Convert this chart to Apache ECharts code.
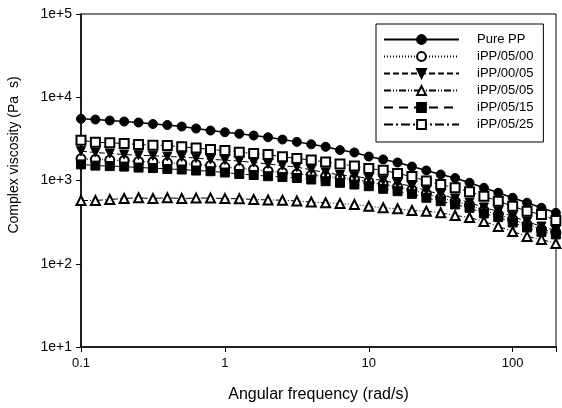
<!DOCTYPE html>
<html>
<head>
<meta charset="utf-8">
<script src="https://cdn.jsdelivr.net/npm/echarts@6/dist/echarts.min.js"></script>
<style>
  html, body { margin: 0; padding: 0; background: #fff; }
  #chart { width: 562px; height: 408px; }
</style>
</head>
<body>
<div id="chart"></div>
<script>
// angular frequency (rad/s), 10 points per decade
var freq = [0.1, 0.1259, 0.1585, 0.1995, 0.2512, 0.3162, 0.3981, 0.5012, 0.631, 0.7943,
            1, 1.259, 1.585, 1.995, 2.512, 3.162, 3.981, 5.012, 6.31, 7.943,
            10, 12.59, 15.85, 19.95, 25.12, 31.62, 39.81, 50.12, 63.1, 79.43,
            100, 125.9, 158.5, 199.5];

// complex viscosity (Pa s)
var purePP   = [5505, 5400, 5250, 5110, 4970, 4770, 4640, 4450, 4210, 3980,
                3800, 3640, 3470, 3310, 3105, 2910, 2720, 2540, 2320, 2170,
                1940, 1790, 1645, 1470, 1320, 1180, 1070, 940, 817, 712,
                620, 540, 470, 409];
var ipp0500  = [1820, 1790, 1760, 1740, 1690, 1670, 1630, 1600, 1560, 1510,
                1450, 1390, 1360, 1300, 1250, 1200, 1160, 1120, 1070, 1030,
                960, 895, 836, 769, 689, 617, 560, 508, 436, 391,
                340, 296, 258, 238];
var ipp0005  = [2250, 2170, 2110, 2050, 2010, 1980, 1940, 1915, 1860, 1790,
                1760, 1710, 1645, 1580, 1510, 1450, 1340, 1250, 1164, 1126,
                1057, 1000, 920, 854, 759, 679, 608, 544, 474, 425,
                370, 322, 280, 251];
var ipp0505  = [575, 575, 592, 608, 620, 608, 620, 608, 615, 615,
                608, 603, 592, 584, 580, 567, 552, 540, 529, 515,
                491, 470, 457, 436, 428, 409, 380, 360, 322, 281,
                244, 213, 196, 175];
var ipp0515  = [1560, 1510, 1490, 1470, 1430, 1410, 1375, 1356, 1318, 1293,
                1247, 1197, 1164, 1126, 1102, 1072, 1028, 981, 939, 895,
                854, 795, 744, 692, 620, 564, 515, 470, 402, 363,
                313, 273, 241, 225];
var ipp0525  = [3050, 2880, 2840, 2780, 2705, 2650, 2630, 2540, 2460, 2355,
                2290, 2190, 2110, 2050, 1925, 1840, 1760, 1670, 1580, 1490,
                1390, 1330, 1213, 1117, 986, 895, 817, 732, 648, 564,
                491, 428, 391, 331];

var names = ['Pure PP', 'iPP/05/00', 'iPP/00/05', 'iPP/05/05', 'iPP/05/15', 'iPP/05/25'];

var font = 'Liberation Sans, Arial, sans-serif';

function pts(ys) {
    return freq.map(function (f, i) { return [f, ys[i]]; });
}

function mkSeries(name, ys, symbol, dash, rotate, width) {
    return {
        name: name,
        type: 'line',
        data: pts(ys),
        symbol: symbol,
        symbolSize: 9,
        symbolRotate: rotate || 0,
        showSymbol: true,
        lineStyle: { color: '#000', width: width || 1, type: dash },
        itemStyle: { color: '#000', borderColor: '#000', borderWidth: 1 }
    };
}

var chart = echarts.init(document.getElementById('chart'));
chart.setOption({
    animation: false,
    backgroundColor: '#fff',
    textStyle: { fontFamily: font, color: '#000' },
    grid: {
        left: 81, right: 6, top: 14, bottom: 60,
        show: true, borderColor: '#000', borderWidth: 1, backgroundColor: 'transparent'
    },
    // y axis title sits above the middle of the axis in the original
    graphic: [{
        type: 'text',
        x: 14, y: 155,
        rotation: Math.PI / 2,
        style: {
            text: 'Complex viscosity (Pa  s)',
            font: '14px ' + font,
            fill: '#000',
            align: 'center',
            verticalAlign: 'middle'
        }
    }],
    legend: {
        orient: 'vertical',
        left: 376, top: 24,
        data: names,
        itemWidth: 75, itemHeight: 11, itemGap: 4,
        padding: [9, 10, 11, 7],
        borderColor: '#000', borderWidth: 1,
        textStyle: { fontFamily: font, fontSize: 13, color: '#000', padding: [0, 0, 0, 13] }
    },
    xAxis: {
        type: 'log', logBase: 10, min: 0.1, max: 200,
        name: 'Angular frequency (rad/s)',
        nameLocation: 'middle', nameGap: 40,
        nameTextStyle: { fontFamily: font, fontSize: 16, color: '#000' },
        axisLine: { lineStyle: { color: '#000', width: 1.5 } },
        axisTick: { length: 5, lineStyle: { color: '#000' } },
        splitLine: { show: false },
        minorTick: { show: false },
        axisLabel: {
            fontFamily: font, fontSize: 13, color: '#000', margin: 10,
            formatter: function (v) {
                var l = Math.log10(v);
                if (Math.abs(l - Math.round(l)) > 1e-6) return '';
                return String(Math.pow(10, Math.round(l)) >= 1 ? Math.round(v) : Number(v.toFixed(1)));
            }
        }
    },
    yAxis: {
        type: 'log', logBase: 10, min: 10, max: 100000,
        axisLine: { lineStyle: { color: '#000', width: 1.5 } },
        axisTick: { length: 5, lineStyle: { color: '#000' } },
        splitLine: { show: false },
        axisLabel: {
            fontFamily: font, fontSize: 14, color: '#000', margin: 9,
            formatter: function (v) { return '1e+' + Math.round(Math.log10(v)); }
        }
    },
    series: [
        mkSeries(names[0], purePP, 'circle', 'solid', 0, 1.5),
        mkSeries(names[1], ipp0500, 'emptyCircle', [1, 2]),
        mkSeries(names[2], ipp0005, 'triangle', [6, 3], 180),
        mkSeries(names[3], ipp0505, 'emptyTriangle', [7, 2, 1, 2, 1, 2]),
        mkSeries(names[4], ipp0515, 'rect', [9, 6]),
        mkSeries(names[5], ipp0525, 'emptyRect', [9, 3, 2, 3])
    ]
});
</script>
</body>
</html>
